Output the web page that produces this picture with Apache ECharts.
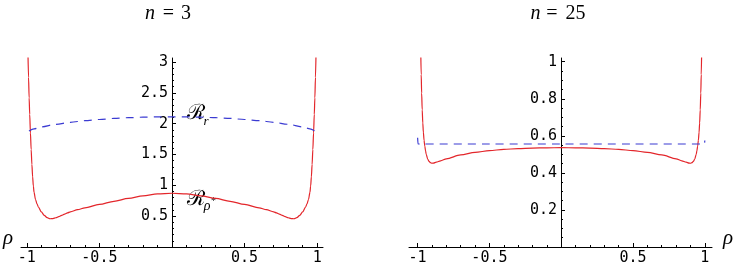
<!DOCTYPE html>
<html>
<head>
<meta charset="utf-8">
<script src="https://cdn.jsdelivr.net/npm/echarts@6/dist/echarts.min.js"></script>
<style>
html, body { margin: 0; padding: 0; background: #fff; }
#main { width: 744px; height: 270px; }
</style>
</head>
<body>
<div id="main"></div>
<script>
// n = 3 panel
var rhoRed3 = [-0.992, -0.988, -0.984, -0.98, -0.975, -0.97, -0.965, -0.96, -0.955, -0.95, -0.94, -0.93, -0.92, -0.9, -0.88, -0.86, -0.84, -0.82, -0.8, -0.78, -0.76, -0.74, -0.72, -0.7, -0.65, -0.6, -0.5, -0.4, -0.3, -0.2, -0.1, 0,
  0.1, 0.2, 0.3, 0.4, 0.5, 0.6, 0.65, 0.7, 0.72, 0.74, 0.76, 0.78, 0.8, 0.82, 0.84, 0.86, 0.88, 0.9, 0.92, 0.93, 0.94, 0.95, 0.955, 0.96, 0.965, 0.97, 0.975, 0.98, 0.984, 0.988, 0.992]
var red3 = [3.15, 2.75, 2.42, 2.15, 1.85, 1.58, 1.34, 1.14, 0.99, 0.885, 0.77, 0.7, 0.648, 0.568, 0.513, 0.476, 0.458, 0.461, 0.474, 0.492, 0.513, 0.534, 0.553, 0.57, 0.605, 0.636, 0.69, 0.74, 0.787, 0.828, 0.86, 0.872,
  0.86, 0.828, 0.787, 0.74, 0.69, 0.636, 0.605, 0.57, 0.553, 0.534, 0.513, 0.492, 0.474, 0.461, 0.458, 0.476, 0.513, 0.568, 0.648, 0.7, 0.77, 0.885, 0.99, 1.14, 1.34, 1.58, 1.85, 2.15, 2.42, 2.75, 3.15]
var rhoBlue3 = [-0.985, -0.95, -0.9, -0.8, -0.7, -0.6, -0.5, -0.4, -0.3, -0.2, -0.1, 0, 0.1, 0.2, 0.3, 0.4, 0.5, 0.6, 0.7, 0.8, 0.9, 0.95, 0.985]
var blue3 = [1.88, 1.915, 1.948, 1.99, 2.022, 2.048, 2.068, 2.085, 2.097, 2.105, 2.11, 2.112, 2.11, 2.105, 2.097, 2.085, 2.068, 2.048, 2.022, 1.99, 1.948, 1.915, 1.88]

// n = 25 panel
var rhoRed25 = [-0.978, -0.975, -0.972, -0.968, -0.964, -0.96, -0.955, -0.95, -0.945, -0.94, -0.93, -0.92, -0.91, -0.9, -0.89, -0.87, -0.84, -0.8, -0.7, -0.6, -0.5, -0.4, -0.3, -0.2, -0.1, 0,
  0.1, 0.2, 0.3, 0.4, 0.5, 0.6, 0.7, 0.8, 0.84, 0.87, 0.89, 0.9, 0.91, 0.92, 0.93, 0.94, 0.945, 0.95, 0.955, 0.96, 0.964, 0.968, 0.972, 0.975, 0.978]
var red25 = [1.05, 0.93, 0.83, 0.74, 0.67, 0.62, 0.575, 0.545, 0.52, 0.5, 0.475, 0.462, 0.455, 0.452, 0.453, 0.458, 0.465, 0.476, 0.497, 0.511, 0.52, 0.527, 0.531, 0.534, 0.535, 0.536,
  0.535, 0.534, 0.531, 0.527, 0.52, 0.511, 0.497, 0.476, 0.465, 0.458, 0.453, 0.452, 0.455, 0.462, 0.475, 0.5, 0.52, 0.545, 0.575, 0.62, 0.67, 0.74, 0.83, 0.93, 1.05]
var rhoBlue25 = [-1, -0.997, -0.5, 0, 0.5, 0.997, 1]
var blue25 = [0.59, 0.556, 0.556, 0.556, 0.556, 0.556, 0.575]

// ticks
var xMajor = [-1, -0.5, 0.5, 1]
var xMinor = [-0.9, -0.8, -0.7, -0.6, -0.4, -0.3, -0.2, -0.1, 0.1, 0.2, 0.3, 0.4, 0.6, 0.7, 0.8, 0.9]
var yMajor3 = [0.5, 1, 1.5, 2, 2.5, 3]
var yMinor3 = [0.1, 0.2, 0.3, 0.4, 0.6, 0.7, 0.8, 0.9, 1.1, 1.2, 1.3, 1.4, 1.6, 1.7, 1.8, 1.9, 2.1, 2.2, 2.3, 2.4, 2.6, 2.7, 2.8, 2.9]
var yMajor25 = [0.2, 0.4, 0.6, 0.8, 1]
var yMinor25 = [0.05, 0.1, 0.15, 0.25, 0.3, 0.35, 0.45, 0.5, 0.55, 0.65, 0.7, 0.75, 0.85, 0.9, 0.95]

var RED = '#e3262b'
var BLUE = '#3b3bd2'
var monoFont = 'DejaVu Sans Mono'

function pairs(xs, ys) {
  return xs.map(function (x, i) { return [x, ys[i]] })
}

function xAxes(grid, min, max) {
  return [{
    type: 'value', gridIndex: grid, position: 'bottom', min: min, max: max,
    axisLine: { onZero: false, lineStyle: { color: '#000', width: 1 } },
    axisTick: { inside: true, length: 4, customValues: xMajor, lineStyle: { color: '#000' } },
    axisLabel: { customValues: xMajor, margin: 4, color: '#000', fontFamily: monoFont, fontSize: 15 },
    splitLine: { show: false }
  }, {
    type: 'value', gridIndex: grid, position: 'bottom', min: min, max: max,
    axisLine: { show: false, onZero: false },
    axisTick: { inside: true, length: 2, customValues: xMinor, lineStyle: { color: '#000' } },
    axisLabel: { show: false },
    splitLine: { show: false }
  }]
}

// y axis sits where x = 0, done with a negative offset from the grid's left edge
function yAxes(grid, max, major, minor, shift) {
  return [{
    type: 'value', gridIndex: grid, position: 'left', offset: -shift, min: 0, max: max,
    axisLine: { show: true, onZero: false, lineStyle: { color: '#000', width: 1 } },
    axisTick: { show: true, inside: true, length: 4, customValues: major, lineStyle: { color: '#000' } },
    axisLabel: { customValues: major, margin: 4, color: '#000', fontFamily: monoFont, fontSize: 15 },
    splitLine: { show: false }
  }, {
    type: 'value', gridIndex: grid, position: 'left', offset: -shift, min: 0, max: max,
    axisLine: { show: false, onZero: false },
    axisTick: { show: true, inside: true, length: 2, customValues: minor, lineStyle: { color: '#000' } },
    axisLabel: { show: false },
    splitLine: { show: false }
  }]
}

function line(xi, yi, data, color, dashed) {
  return {
    type: 'line', xAxisIndex: xi, yAxisIndex: yi, data: data,
    showSymbol: false, smooth: 0.3, smoothMonotone: 'x', silent: true, clip: true,
    lineStyle: { color: color, width: 1.2, type: dashed ? [8, 6] : 'solid' }
  }
}

function txt(x, y, s, font, align) {
  return { type: 'text', x: x, y: y, style: { text: s, font: font, fill: '#000', align: align || 'center', verticalAlign: 'middle' } }
}

var chart = echarts.init(document.getElementById('main'), null, { renderer: 'canvas' })

var serif = '"Liberation Serif"'

chart.setOption({
  animation: false,
  backgroundColor: '#fff',
  grid: [
    { left: 21, top: 58, width: 302, height: 189, outerBoundsMode: 'none' },
    { left: 409, top: 58, width: 303, height: 189, outerBoundsMode: 'none' }
  ],
  xAxis: xAxes(0, -1.04, 1.04).concat(xAxes(1, -1.06, 1.05)),
  yAxis: yAxes(0, 3.065, yMajor3, yMinor3, 151).concat(yAxes(1, 1.02, yMajor25, yMinor25, 152)),
  series: [
    line(0, 0, pairs(rhoRed3, red3), RED, false),
    line(0, 0, pairs(rhoBlue3, blue3), BLUE, true),
    line(2, 2, pairs(rhoRed25, red25), RED, false),
    line(2, 2, pairs(rhoBlue25, blue25), BLUE, true)
  ],
  graphic: [
    // panel titles
    txt(150, 14, 'n', 'italic 20px ' + serif),
    txt(168.5, 14, '=', '20px ' + serif),
    txt(186, 14, '3', '20px ' + serif),
    txt(535.5, 14, 'n', 'italic 20px ' + serif),
    txt(552, 14, '=', '20px ' + serif),
    txt(575.5, 14, '25', '20px ' + serif),
    // axis names
    txt(8, 238, 'ρ', 'italic 21px ' + serif),
    txt(728, 238, 'ρ', 'italic 21px ' + serif),
    // R_r label
    txt(195.5, 114, 'ℛ', '21px "DejaVu Serif"'),
    txt(206, 122, 'r', 'italic 13px ' + serif),
    // R_rho* label
    txt(195.5, 199.5, 'ℛ', '21px "DejaVu Serif"'),
    txt(207, 206, 'ρ', 'italic 14px ' + serif),
    txt(213.5, 201, '*', '10px ' + serif)
  ]
})
</script>
</body>
</html>
